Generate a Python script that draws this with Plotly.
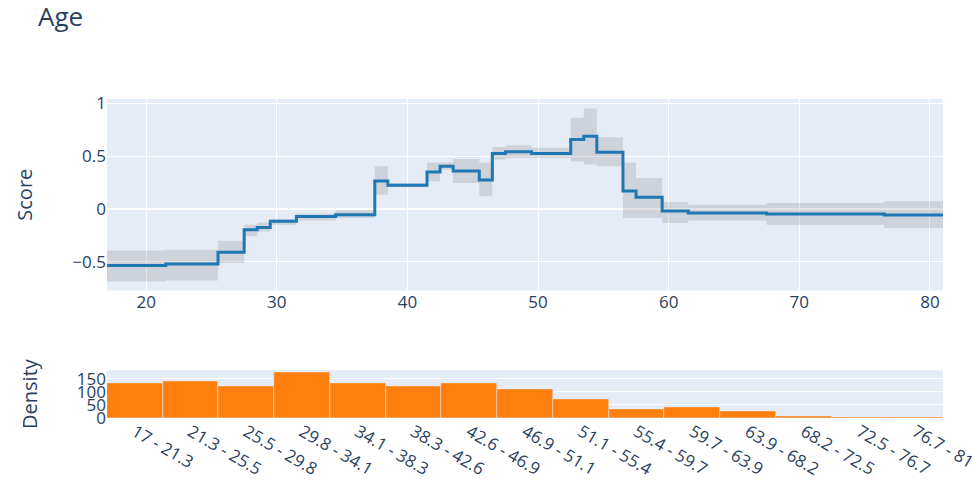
import plotly.graph_objects as go

# Bin edges for the age shape function (last edge closes the final step)
bin_edges = [17, 21.5, 25.5, 27.5, 28.5, 29.5, 31.5, 34.5, 37.5, 38.5, 41.5, 42.5,
             43.5, 45.5, 46.5, 47.5, 49.5, 52.5, 53.5, 54.5, 56.5, 57.5, 59.5,
             61.5, 67.5, 76.5, 81]

# Per-bin score with its upper / lower error bounds
scores = [-0.534, -0.52, -0.41, -0.196, -0.174, -0.117, -0.07, -0.054, 0.265,
          0.224, 0.35, 0.405, 0.358, 0.273, 0.524, 0.54, 0.524, 0.656, 0.688,
          0.536, 0.17, 0.11, -0.02, -0.038, -0.047, -0.057]
upper = [-0.392, -0.385, -0.30, -0.149, -0.127, -0.095, -0.045, -0.013, 0.403,
         0.245, 0.44, 0.44, 0.473, 0.436, 0.587, 0.602, 0.578, 0.862, 0.95,
         0.678, 0.436, 0.294, 0.066, 0.04, 0.057, 0.072]
lower = [-0.686, -0.676, -0.511, -0.259, -0.212, -0.149, -0.108, -0.085, 0.135,
         0.205, 0.26, 0.37, 0.246, 0.12, 0.467, 0.483, 0.483, 0.45, 0.42,
         0.403, -0.085, -0.085, -0.133, -0.108, -0.149, -0.18]

# Histogram of ages
density_bins = ["17 - 21.3", "21.3 - 25.5", "25.5 - 29.8", "29.8 - 34.1",
                "34.1 - 38.3", "38.3 - 42.6", "42.6 - 46.9", "46.9 - 51.1",
                "51.1 - 55.4", "55.4 - 59.7", "59.7 - 63.9", "63.9 - 68.2",
                "68.2 - 72.5", "72.5 - 76.7", "76.7 - 81"]
density_counts = [135, 140, 120, 174, 135, 120, 135, 111, 73, 35, 40, 28, 6, 5, 4]


def step(vals):
    # hv step lines need the last value repeated at the closing edge
    return list(vals) + [vals[-1]]


band_fill = "rgba(68, 68, 68, 0.15)"
fig = go.Figure()
fig.add_trace(go.Scatter(x=bin_edges, y=step(lower), mode="lines",
                         line=dict(width=0, shape="hv"), showlegend=False,
                         hoverinfo="skip"))
fig.add_trace(go.Scatter(x=bin_edges, y=step(upper), mode="lines",
                         line=dict(width=0, shape="hv"), fill="tonexty",
                         fillcolor=band_fill, showlegend=False, hoverinfo="skip"))
fig.add_trace(go.Scatter(x=bin_edges, y=step(scores), mode="lines",
                         line=dict(color="rgb(31, 119, 180)", width=3, shape="hv"),
                         showlegend=False))
fig.add_trace(go.Bar(x=density_bins, y=density_counts, xaxis="x2", yaxis="y2",
                     marker=dict(color="rgb(255, 127, 14)"), showlegend=False))

fig.update_layout(
    width=972, height=484,
    template="plotly",
    font=dict(family="Open Sans", size=17, color="#2a3f5f"),
    title=dict(text="Age", x=38 / 972, xanchor="left", xref="container",
               y=1 - 17 / 484, yanchor="middle", font=dict(size=26)),
    margin=dict(l=107, r=29, t=99, b=66, autoexpand=False),
    bargap=0,
    xaxis=dict(domain=[0, 1], anchor="y", range=[17, 81], dtick=10,
               automargin=False),
    yaxis=dict(domain=[0.4, 1], anchor="x", range=[-0.77, 1.04],
               title=dict(text="Score", font=dict(size=20), standoff=34),
               tickvals=[-0.5, 0, 0.5, 1], automargin=False),
    xaxis2=dict(domain=[0, 1], anchor="y2", type="category", tickangle=30,
                showgrid=False, automargin=False),
    yaxis2=dict(domain=[0, 0.15], anchor="x2", range=[0, 183],
                tickvals=[0, 50, 100, 150], automargin=False,
                title=dict(text="Density", font=dict(size=20), standoff=33)),
)

fig.write_html("out.html")
